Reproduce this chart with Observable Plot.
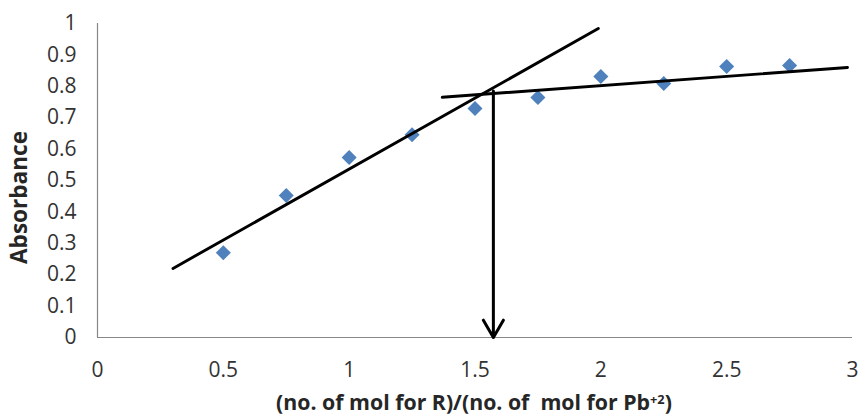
<!DOCTYPE html>
<html>
<head>
<meta charset="utf-8">
<script src="https://cdn.jsdelivr.net/npm/d3@7"></script>
<script src="https://cdn.jsdelivr.net/npm/@observablehq/plot@0.6"></script>
<style>
  html, body { margin: 0; padding: 0; background: #fff; overflow: hidden; }
  #chart { height: 388px; }
  #title {
    width: 860px; height: 30px; box-sizing: border-box; padding-left: 88px; padding-top: 3px;
    text-align: center; font-family: "Open Sans", sans-serif; font-weight: bold;
    font-size: 20px; line-height: 22px; color: #262626; white-space: nowrap;
  }
  #title sup { font-size: 0.6em; vertical-align: 0.45em; line-height: 0; }
</style>
</head>
<body>
<div id="chart"></div>
<div id="title"><span id="titleText">(no. of mol for R)/(no. of &nbsp;mol for Pb<sup>+2</sup>)</span></div>
<script>
// Measured points
const ratio = [0.5, 0.75, 1.0, 1.25, 1.5, 1.75, 2.0, 2.25, 2.5, 2.75];
const absorbance = [0.27, 0.452, 0.573, 0.646, 0.729, 0.764, 0.831, 0.809, 0.863, 0.866];

// Hand-drawn fit lines (endpoints)
const fit1X = [0.30, 1.99];
const fit1Y = [0.22, 0.984];
const fit2X = [1.37, 2.98];
const fit2Y = [0.765, 0.86];

// Vertical arrow to the x axis
const arrowX = [1.573];
const arrowTop = [0.785];
const arrowBottom = [0];

// Ticks
const xTicks = [0, 0.5, 1, 1.5, 2, 2.5, 3];
const yTicks = [0, 0.1, 0.2, 0.3, 0.4, 0.5, 0.6, 0.7, 0.8, 0.9, 1];
const yTitle = "Absorbance";

const points = ratio.map((r, i) => ({x: r, y: absorbance[i]}));
const line1 = fit1X.map((x, i) => ({x, y: fit1Y[i]}));
const line2 = fit2X.map((x, i) => ({x, y: fit2Y[i]}));
const arrowData = arrowX.map((x, i) => ({x, y1: arrowTop[i], y2: arrowBottom[i]}));

const chart = Plot.plot({
  width: 860,
  height: 388,
  marginLeft: 97,
  marginRight: 8,
  marginTop: 23,
  marginBottom: 51,
  style: {fontFamily: "Open Sans", fontSize: "21px", color: "#333", background: "#fff"},
  x: {domain: [0, 3]},
  y: {domain: [0, 1]},
  marks: [
    Plot.ruleX([0], {stroke: "#878787", strokeWidth: 1.2}),
    Plot.ruleY([0], {stroke: "#878787", strokeWidth: 1.2}),
    Plot.axisX({ticks: xTicks, tickSize: 0, tickPadding: 25, tickFormat: d => String(d), label: null, fontSize: 21}),
    Plot.axisY({ticks: yTicks, tickSize: 0, tickPadding: 21, tickFormat: d => String(d), label: null, fontSize: 21}),
    Plot.dot(points, {x: "x", y: "y", symbol: "square", rotate: 45, r: 6, fill: "#4F81BD", stroke: "none"}),
    Plot.line(line1, {x: "x", y: "y", stroke: "#000", strokeWidth: 2.9}),
    Plot.line(line2, {x: "x", y: "y", stroke: "#000", strokeWidth: 2.9}),
    Plot.arrow(arrowData, {x: "x", y1: "y1", y2: "y2", stroke: "#000", strokeWidth: 3, headLength: 10, headAngle: 60}),
    Plot.text([yTitle], {text: d => d, frameAnchor: "left", textAnchor: "middle", dx: -78, dy: 17, rotate: -90,
      fontWeight: "bold", fontSize: 22, fill: "#262626"})
  ]
});
document.getElementById("chart").appendChild(chart);

// Fit the y title to the reference length (about 133 px)
for (const t of chart.querySelectorAll("text")) {
  if (t.textContent === yTitle) {
    const len = t.getComputedTextLength();
    if (len > 0) {
      const fs = 22 * 133 / len;
      t.setAttribute("font-size", fs.toFixed(2));
      t.style.fontSize = fs.toFixed(2) + "px";
    }
  }
}
// Fit the x title to the reference width (about 396 px)
const span = document.getElementById("titleText");
const w = span.getBoundingClientRect().width;
if (w > 0) {
  const fs = Math.min(23, 20 * 396 / w);
  document.getElementById("title").style.fontSize = fs.toFixed(2) + "px";
}
</script>
</body>
</html>
